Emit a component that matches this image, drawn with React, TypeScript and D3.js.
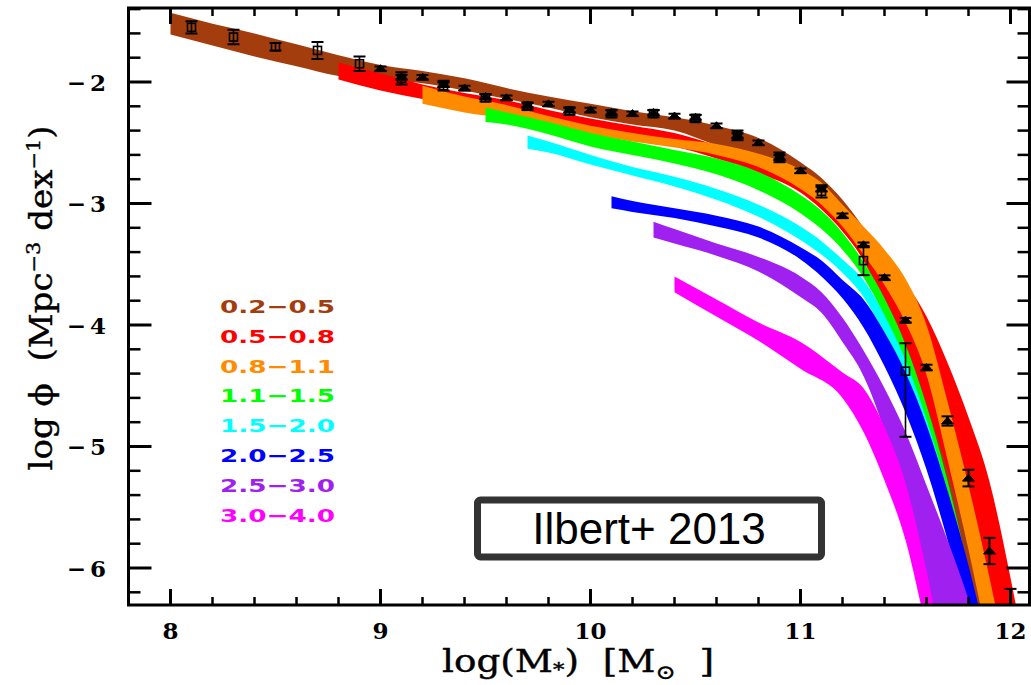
import React from "react";
import * as d3 from "d3";

// ---- data: each band row = [log M*, upper log phi, lower log phi]
const band02_05: number[][] = [
  [8.0, -1.43, -1.61], [8.2, -1.52, -1.7], [8.4, -1.6, -1.79], [8.6, -1.69, -1.87], [8.8, -1.78, -1.95],
  [9.0, -1.86, -1.98], [9.2, -1.91, -2.01], [9.4, -1.97, -2.07], [9.6, -2.05, -2.14], [9.8, -2.12, -2.21],
  [10.0, -2.18, -2.29], [10.2, -2.24, -2.35], [10.4, -2.29, -2.4], [10.6, -2.36, -2.52], [10.8, -2.46, -2.62],
  [11.0, -2.66, -2.77], [11.1, -2.79, -2.91], [11.2, -2.97, -3.14], [11.3, -3.2, -3.43], [11.4, -3.48, -3.79],
  [11.5, -3.84, -4.33], [11.6, -4.25, -4.86], [11.7, -4.78, -5.52], [11.8, -5.44, -6.22], [11.9, -6.43, -7.0],
];
const band05_08: number[][] = [
  [8.8, -1.84, -1.98], [9.0, -1.93, -2.07], [9.2, -2.02, -2.14], [9.4, -2.09, -2.21], [9.6, -2.15, -2.27],
  [9.8, -2.23, -2.34], [10.0, -2.3, -2.4], [10.2, -2.36, -2.47], [10.4, -2.42, -2.53], [10.6, -2.52, -2.63],
  [10.8, -2.63, -2.75], [11.0, -2.77, -2.91], [11.1, -2.89, -3.05], [11.2, -3.02, -3.23], [11.3, -3.2, -3.47],
  [11.4, -3.42, -3.84], [11.5, -3.65, -4.21], [11.6, -3.93, -4.66], [11.7, -4.31, -5.19], [11.8, -4.76, -5.81],
  [11.9, -5.29, -6.51], [12.0, -6.08, -7.3], [12.1, -7.0, -8.0],
];
const band08_11: number[][] = [
  [9.2, -2.03, -2.18], [9.4, -2.12, -2.25], [9.6, -2.19, -2.3], [9.8, -2.28, -2.36], [10.0, -2.36, -2.43],
  [10.2, -2.42, -2.49], [10.4, -2.47, -2.54], [10.6, -2.51, -2.6], [10.8, -2.59, -2.7], [11.0, -2.72, -2.88],
  [11.1, -2.83, -3.01], [11.2, -3.01, -3.19], [11.3, -3.19, -3.42], [11.4, -3.38, -3.67], [11.5, -3.62, -3.98],
  [11.6, -4.0, -4.41], [11.7, -4.63, -5.11], [11.8, -5.32, -5.85], [11.9, -6.08, -6.67], [12.0, -6.92, -7.5],
];
const band11_15: number[][] = [
  [9.5, -2.21, -2.33], [9.6, -2.25, -2.35], [9.8, -2.33, -2.43], [10.0, -2.42, -2.53], [10.2, -2.49, -2.6],
  [10.4, -2.56, -2.67], [10.6, -2.63, -2.76], [10.8, -2.74, -2.89], [11.0, -2.93, -3.08], [11.1, -3.06, -3.21],
  [11.2, -3.24, -3.38], [11.3, -3.48, -3.61], [11.4, -3.78, -3.93], [11.5, -4.16, -4.37], [11.6, -4.66, -4.95],
  [11.7, -5.28, -5.6], [11.8, -6.02, -6.35], [11.9, -6.84, -7.1],
];
const band15_20: number[][] = [
  [9.7, -2.44, -2.55], [9.8, -2.49, -2.58], [10.0, -2.6, -2.68], [10.2, -2.7, -2.77], [10.4, -2.78, -2.86],
  [10.6, -2.88, -2.97], [10.8, -3.01, -3.11], [11.0, -3.19, -3.3], [11.1, -3.31, -3.42], [11.2, -3.46, -3.57],
  [11.3, -3.63, -3.77], [11.4, -3.92, -4.08], [11.5, -4.29, -4.49], [11.6, -4.78, -5.03], [11.7, -5.36, -5.69],
  [11.8, -6.02, -6.43], [11.9, -6.8, -7.1],
];
const band20_25: number[][] = [
  [10.1, -2.94, -3.04], [10.2, -2.98, -3.07], [10.4, -3.04, -3.12], [10.6, -3.1, -3.19], [10.8, -3.19, -3.28],
  [11.0, -3.36, -3.46], [11.1, -3.47, -3.6], [11.2, -3.63, -3.78], [11.3, -3.79, -4.02], [11.4, -4.06, -4.34],
  [11.5, -4.39, -4.72], [11.6, -4.82, -5.19], [11.7, -5.36, -5.77], [11.8, -5.98, -6.43], [11.9, -6.7, -7.1],
];
const band25_30: number[][] = [
  [10.3, -3.15, -3.28], [10.4, -3.21, -3.33], [10.6, -3.33, -3.43], [10.8, -3.44, -3.56], [11.0, -3.6, -3.77],
  [11.1, -3.73, -3.9], [11.2, -3.94, -4.14], [11.3, -4.21, -4.42], [11.4, -4.52, -4.88], [11.5, -4.88, -5.54],
  [11.6, -5.32, -6.35], [11.7, -5.77, -7.0], [11.8, -6.26, -7.5], [11.9, -6.84, -8.0],
];
const band30_40: number[][] = [
  [10.4, -3.6, -3.73], [10.6, -3.79, -3.93], [10.8, -3.98, -4.13], [11.0, -4.14, -4.36], [11.2, -4.39, -4.6],
  [11.3, -4.52, -4.88], [11.4, -4.84, -5.28], [11.5, -5.3, -5.77], [11.6, -6.02, -6.51], [11.7, -6.92, -7.3],
];

const bandLabels = ["0.2\u22120.5", "0.5\u22120.8", "0.8\u22121.1", "1.1\u22121.5", "1.5\u22122.0", "2.0\u22122.5", "2.5\u22123.0", "3.0\u22124.0"];
const bandColors = ["#A43D0E", "#FF0000", "#FF8C00", "#00FF00", "#00FFFF", "#0000FF", "#A020F0", "#FF00FF"];
const bands = [band02_05, band05_08, band08_11, band11_15, band15_20, band20_25, band25_30, band30_40];

// filled triangles (one data set)
const triMass = [9.0, 9.1, 9.2, 9.3, 9.4, 9.5, 9.6, 9.7, 9.8, 9.9, 10.0, 10.1, 10.2, 10.3, 10.4, 10.5, 10.6, 10.7, 10.8, 10.9, 11.0, 11.1, 11.2, 11.3, 11.4, 11.5, 11.6, 11.7, 11.8, 11.9, 12.0];
const triPhi = [-1.89, -1.96, -1.96, -2.02, -2.05, -2.12, -2.13, -2.19, -2.18, -2.23, -2.23, -2.25, -2.26, -2.25, -2.28, -2.29, -2.36, -2.44, -2.5, -2.62, -2.73, -2.88, -3.1, -3.34, -3.61, -3.96, -4.35, -4.79, -5.26, -5.86, -6.32];
const triErr = [0.01, 0.01, 0.01, 0.01, 0.01, 0.01, 0.01, 0.01, 0.01, 0.01, 0.01, 0.01, 0.01, 0.01, 0.01, 0.01, 0.01, 0.01, 0.01, 0.01, 0.01, 0.01, 0.01, 0.01, 0.01, 0.01, 0.015, 0.03, 0.06, 0.1, 0.14];

// open squares with error bars (other data set)
const sqMass = [8.1, 8.3, 8.5, 8.7, 8.9, 9.1, 9.3, 9.5, 9.7, 9.9, 10.1, 10.3, 10.5, 10.7, 10.9, 11.1, 11.3, 11.5];
const sqPhi = [-1.55, -1.63, -1.71, -1.74, -1.85, -1.97, -2.03, -2.13, -2.2, -2.24, -2.26, -2.26, -2.3, -2.44, -2.62, -2.9, -3.47, -4.38];
const sqErrUp = [0.05, 0.06, 0.03, 0.07, 0.06, 0.05, 0.04, 0.03, 0.03, 0.03, 0.03, 0.03, 0.03, 0.04, 0.04, 0.05, 0.12, 0.23];
const sqErrDown = [0.05, 0.06, 0.03, 0.07, 0.06, 0.05, 0.04, 0.03, 0.03, 0.03, 0.03, 0.03, 0.03, 0.04, 0.04, 0.05, 0.12, 0.54];

const xMajor = [8, 9, 10, 11, 12];
const yMajor = [-2, -3, -4, -5, -6];

export default function App() {
  const x = d3.scaleLinear().domain([8, 12]).range([170.5, 1010.5]);
  const y = d3.scaleLinear().domain([-2, -6]).range([82, 568]);
  const L = x(7.8), R = 1029.5, T = 8, B = 605;

  const area = d3
    .area<number[]>()
    .x((d) => x(d[0]))
    .y0((d) => y(d[2]))
    .y1((d) => y(d[1]))
    .curve(d3.curveMonotoneX);

  const xMinor = d3.range(39, 61).map((i) => i / 5).filter((v) => Math.abs(v - Math.round(v)) > 1e-6 && x(v) < R);
  const yMinor = d3.range(-31, -6).map((i) => i / 5).filter((v) => Math.abs(v - Math.round(v)) > 1e-6 && y(v) > T && y(v) < B);

  const serif = "'DejaVu Serif', serif";
  const cap = 6;

  return (
    <svg width={1031} height={685} style={{ position: "absolute", left: 0, top: 0, background: "#fff" }}>
      <defs>
        <clipPath id="plotClip">
          <rect x={L} y={T} width={R - L} height={B - T} />
        </clipPath>
      </defs>
      <rect x={0} y={0} width={1031} height={685} fill="#fff" />
      <g clipPath="url(#plotClip)">
        {bands.map((b, i) => (
          <path key={i} d={area(b) || ""} fill={bandColors[i]} stroke="none" />
        ))}
        {/* squares */}
        {sqMass.map((m, i) => {
          const cx = x(m), cy = y(sqPhi[i]);
          const y1 = y(sqPhi[i] + sqErrUp[i]), y2 = y(sqPhi[i] - sqErrDown[i]);
          return (
            <g key={"s" + i} stroke="#000" fill="none" strokeWidth={1.6}>
              <line x1={cx} x2={cx} y1={y1} y2={y2} />
              <line x1={cx - cap} x2={cx + cap} y1={y1} y2={y1} strokeWidth={2} />
              <line x1={cx - cap} x2={cx + cap} y1={y2} y2={y2} strokeWidth={2} />
              <rect x={cx - 4} y={cy - 4} width={8} height={8} fill="none" />
            </g>
          );
        })}
        {/* triangles */}
        {triMass.map((m, i) => {
          const cx = x(m), cy = y(triPhi[i]);
          const y1 = y(triPhi[i] + triErr[i]), y2 = y(triPhi[i] - triErr[i]);
          return (
            <g key={"t" + i} stroke="#000" strokeWidth={2}>
              <line x1={cx} x2={cx} y1={y1 - 1} y2={y2 + 1} />
              <line x1={cx - cap} x2={cx + cap} y1={y1 - 1} y2={y1 - 1} />
              <line x1={cx - cap} x2={cx + cap} y1={y2 + 1} y2={y2 + 1} />
              <path d={`M${cx - 6},${cy + 3}L${cx},${cy - 4}L${cx + 6},${cy + 3}Z`} fill="#000" strokeWidth={1} />
            </g>
          );
        })}
      </g>

      {/* frame */}
      <rect x={L} y={T} width={R - L} height={B - T} fill="none" stroke="#000" strokeWidth={3} />
      {/* x ticks */}
      {xMajor.map((v) => (
        <g key={"xM" + v} stroke="#000" strokeWidth={3}>
          <line x1={x(v)} x2={x(v)} y1={B} y2={B - 16} />
          <line x1={x(v)} x2={x(v)} y1={T} y2={T + 16} />
        </g>
      ))}
      {xMinor.map((v) => (
        <g key={"xm" + v} stroke="#000" strokeWidth={2.5}>
          <line x1={x(v)} x2={x(v)} y1={B} y2={B - 8} />
          <line x1={x(v)} x2={x(v)} y1={T} y2={T + 8} />
        </g>
      ))}
      {/* y ticks */}
      {yMajor.map((v) => (
        <g key={"yM" + v} stroke="#000" strokeWidth={3}>
          <line x1={L} x2={L + 23} y1={y(v)} y2={y(v)} />
          <line x1={R} x2={R - 23} y1={y(v)} y2={y(v)} />
        </g>
      ))}
      {yMinor.map((v) => (
        <g key={"ym" + v} stroke="#000" strokeWidth={2.5}>
          <line x1={L} x2={L + 12} y1={y(v)} y2={y(v)} />
          <line x1={R} x2={R - 12} y1={y(v)} y2={y(v)} />
        </g>
      ))}
      {/* tick labels */}
      {xMajor.map((v) => (
        <text key={"xl" + v} x={x(v)} y={639} textAnchor="middle" fontFamily={serif} fontWeight="bold" fontSize={23}>
          {String(v)}
        </text>
      ))}
      {yMajor.map((v) => (
        <text key={"yl" + v} x={106} y={y(v) + 8.5} textAnchor="end" fontFamily={serif} fontWeight="bold" fontSize={23}>
          {"\u2212"}
          <tspan dx={4}>{String(Math.abs(v))}</tspan>
        </text>
      ))}

      {/* axis titles */}
      <text
        x={578}
        y={672}
        textAnchor="middle"
        fontFamily={serif}
        fontSize={31}
        textLength={272}
        lengthAdjust="spacingAndGlyphs"
        stroke="#000"
        strokeWidth={0.4}
        style={{ whiteSpace: "pre" }}
      >
        log(M<tspan fontSize={19} dy={4}>*</tspan>
        <tspan dy={-4}>{")  [M"}</tspan>
        <tspan fontSize={20} dy={7}>{"\u2299"}</tspan>
        <tspan dy={-7}>{"  ]"}</tspan>
      </text>
      <text
        transform="translate(52,298) rotate(-90)"
        textAnchor="middle"
        fontFamily={serif}
        fontSize={31}
        textLength={345}
        lengthAdjust="spacingAndGlyphs"
        stroke="#000"
        strokeWidth={0.4}
        style={{ whiteSpace: "pre" }}
      >
        {"log \u03D5  (Mpc"}
        <tspan fontSize={19} dy={-12}>{"\u22123"}</tspan>
        <tspan dy={12}>{" dex"}</tspan>
        <tspan fontSize={19} dy={-12}>{"\u22121"}</tspan>
        <tspan dy={12}>)</tspan>
      </text>

      {/* legend */}
      {bandLabels.map((lab, i) => (
        <text
          key={"lg" + i}
          x={220}
          y={313 + i * 29.8}
          fill={bandColors[i]}
          fontFamily="'DejaVu Sans', sans-serif"
          fontWeight="bold"
          fontSize={18}
          textLength={115}
          lengthAdjust="spacingAndGlyphs"
        >
          {lab}
        </text>
      ))}

      {/* label box */}
      <rect x={477.5} y={500} width={344} height={57} rx={3} fill="#fff" stroke="#333" strokeWidth={7} />
      <text x={649} y={544} textAnchor="middle" fontFamily="'Liberation Sans', Arial, sans-serif" fontSize={44} fill="#000">
        Ilbert+ 2013
      </text>
    </svg>
  );
}
